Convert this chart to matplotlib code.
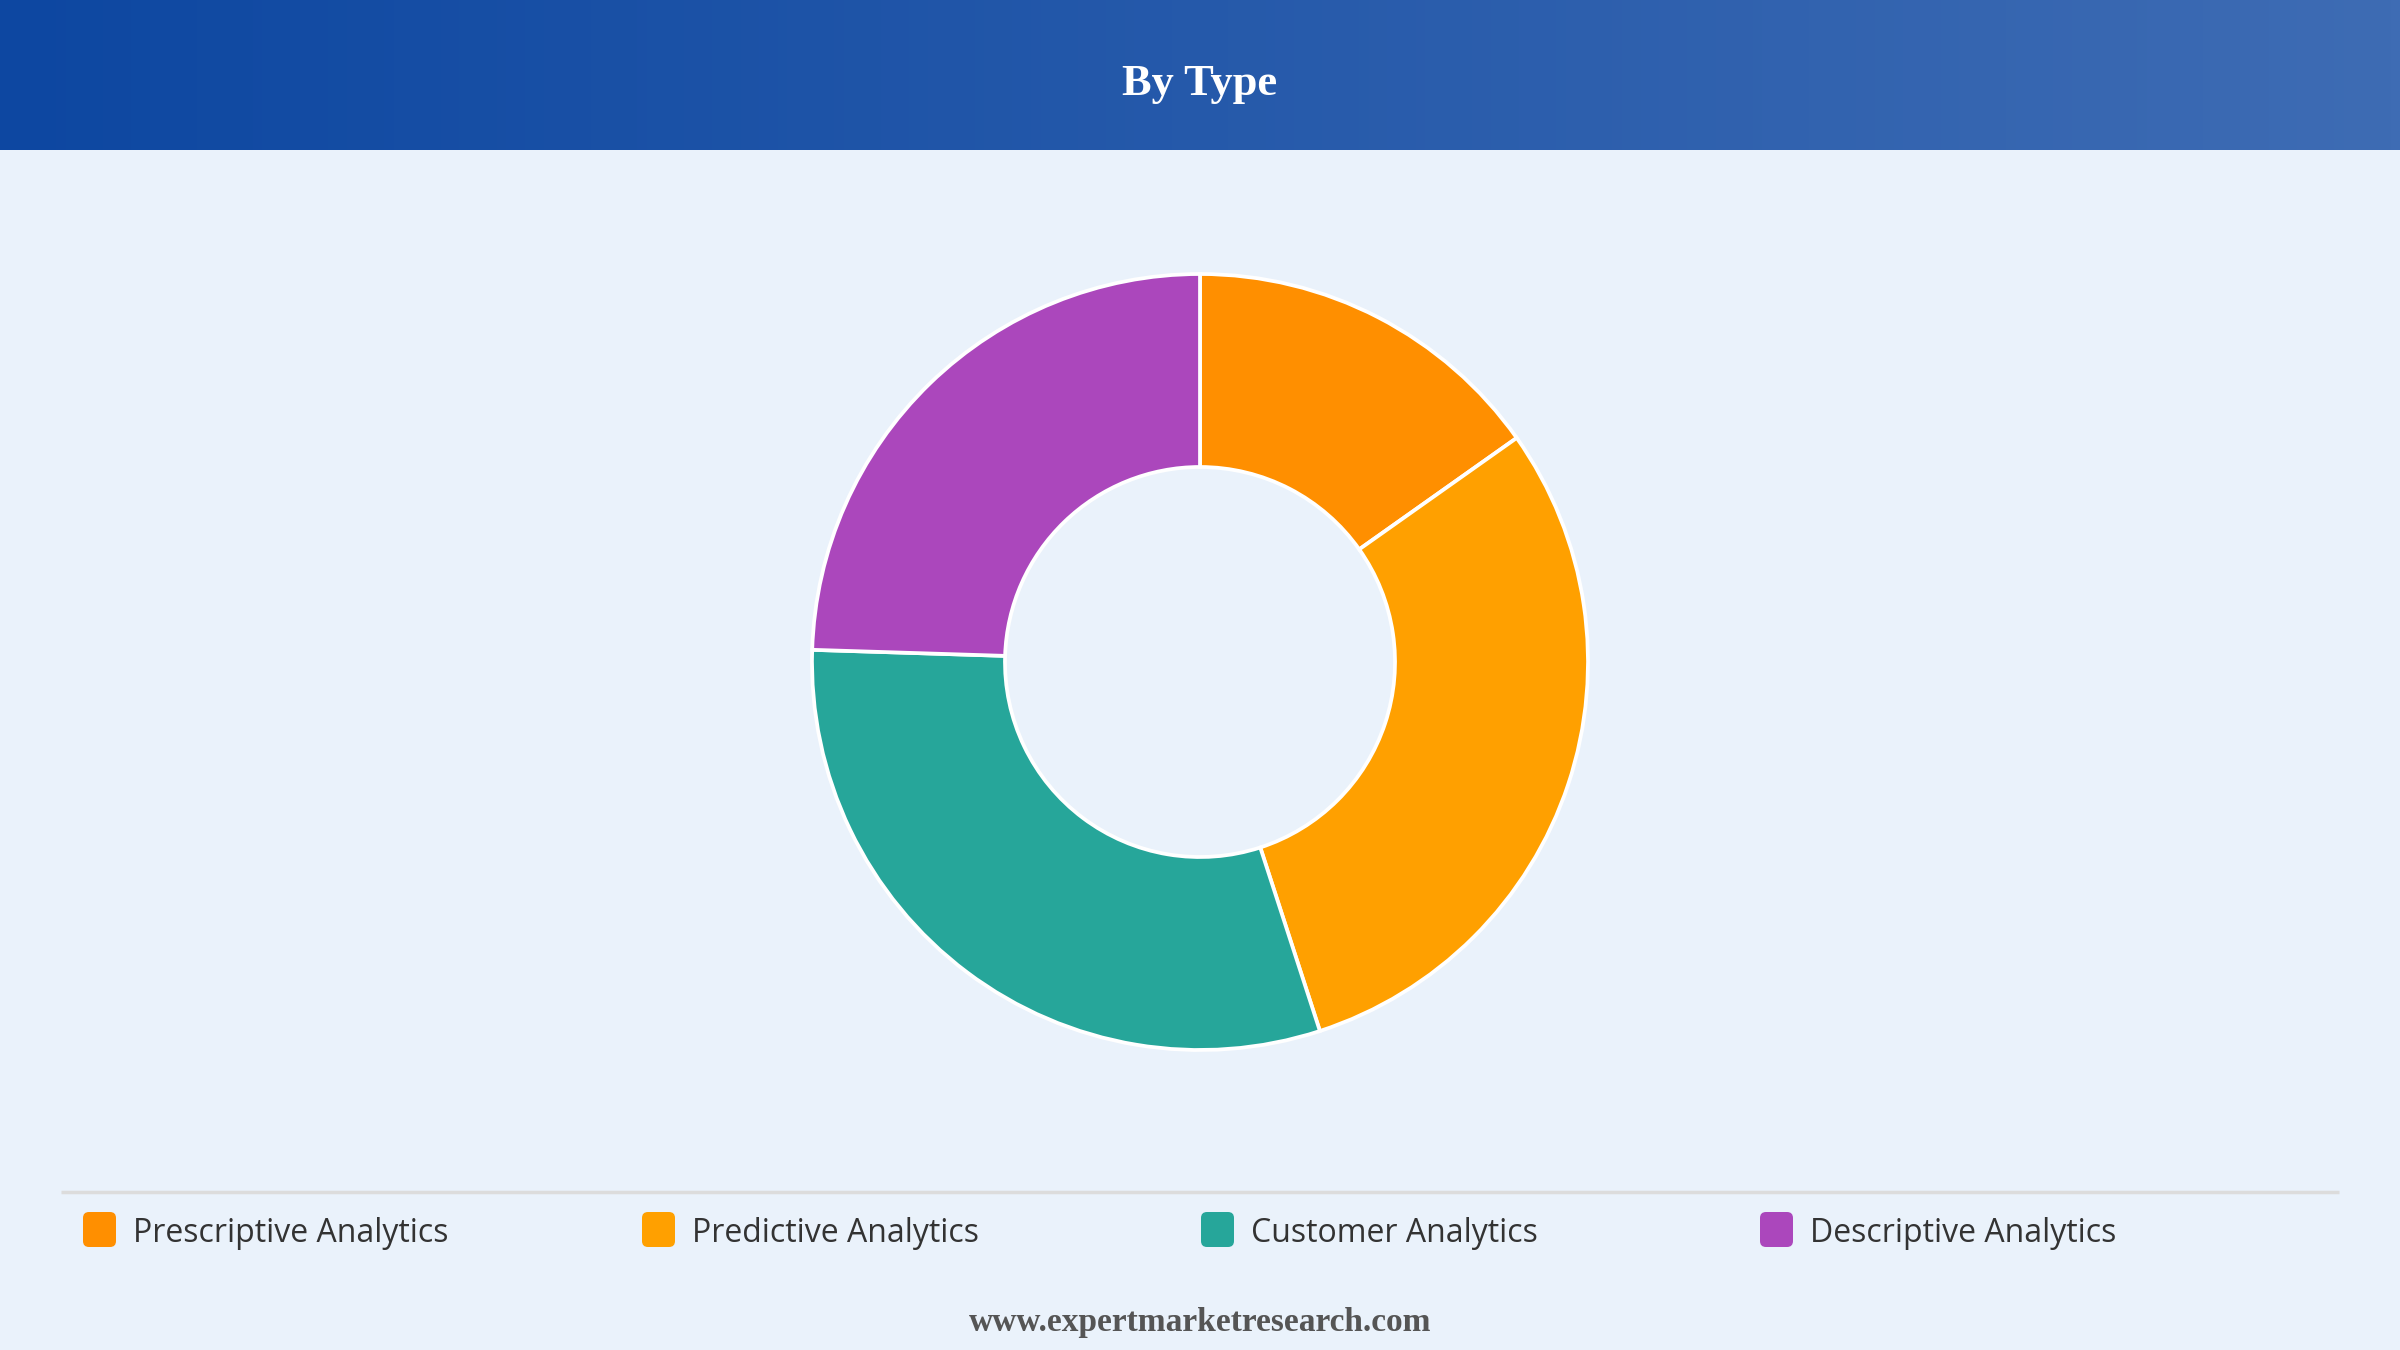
import numpy as np
import matplotlib.pyplot as plt
from matplotlib.patches import FancyBboxPatch
from matplotlib.colors import LinearSegmentedColormap

# data
labels = ["Prescriptive Analytics", "Predictive Analytics", "Customer Analytics", "Descriptive Analytics"]
shares = [15.2, 29.8, 30.5, 24.5]
colors = ["#FF8F00", "#FFA000", "#26A69A", "#AB47BC"]
title = "By Type"
footer = "www.expertmarketresearch.com"

W, H = 2400, 1350
bg = "#EAF2FB"

fig = plt.figure(figsize=(24, 13.5), dpi=100, facecolor=bg)
ax = fig.add_axes([0, 0, 1, 1])
ax.set_facecolor(bg)

# header band with gradient
hdr = 150
cmap = LinearSegmentedColormap.from_list("hdr", ["#0D47A1", "#3E6CB4"])
grad = np.linspace(0, 1, 256).reshape(1, -1)
ax.imshow(grad, cmap=cmap, aspect="auto", extent=[0, W, H - hdr, H], zorder=0)
ax.text(W / 2, H - 84, title, ha="center", va="center", color="white",
        fontsize=32, fontweight="bold", family="Liberation Serif")

# donut
r_out, r_in = 388, 195
ax.pie(shares, colors=colors, startangle=90, counterclock=False,
       center=(1200, H - 662), radius=r_out,
       wedgeprops=dict(width=r_out - r_in, edgecolor="white", linewidth=2.7))

# legend
ax.plot([61, 2339], [H - 1192, H - 1192], color="#DCDCDC", lw=2.5, solid_capstyle="butt")
x0, step = 83, 559
for i, (lab, c) in enumerate(zip(labels, colors)):
    x = x0 + i * step
    box = FancyBboxPatch((x + 4, H - 1247 + 4), 33 - 8, 35 - 8,
                         boxstyle="round,pad=4,rounding_size=6",
                         facecolor=c, edgecolor="none")
    ax.add_patch(box)
    ax.text(x + 50, H - 1233, lab, ha="left", va="center", color="#333333",
            fontsize=23, family="Open Sans")

ax.text(W / 2, H - 1323, footer, ha="center", va="center", color="#555555",
        fontsize=24, fontweight="bold", family="Liberation Serif")

ax.set_xlim(0, W)
ax.set_ylim(0, H)
ax.set_aspect("auto")
ax.axis("off")
fig.savefig("out.png", dpi=100, facecolor=bg)
